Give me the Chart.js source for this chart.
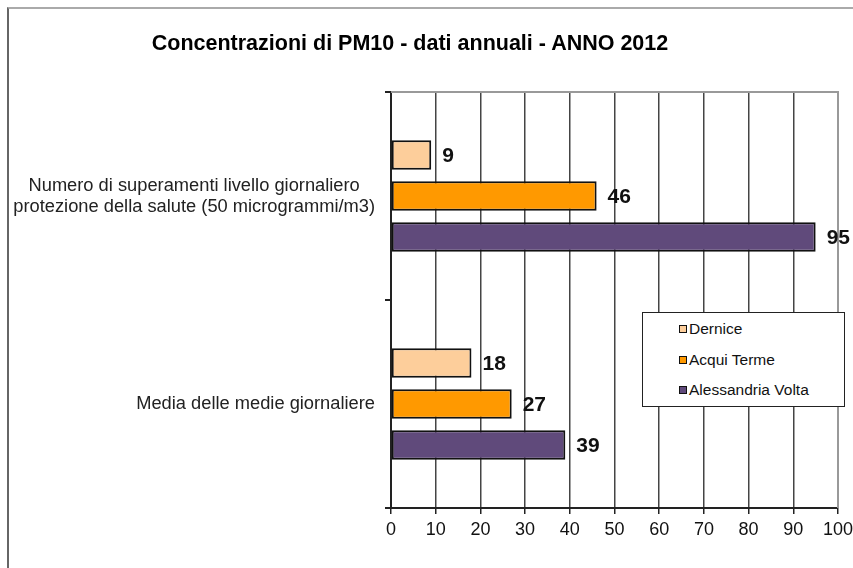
<!DOCTYPE html>
<html>
<head>
<meta charset="utf-8">
<script src="https://cdn.jsdelivr.net/npm/chart.js@4.4.1/dist/chart.umd.min.js"></script>
<style>
  html, body { margin: 0; padding: 0; background: #fff; }
  .wrap { position: relative; width: 853px; height: 568px; overflow: hidden; font-family: Arial, "Liberation Sans", sans-serif; }
  .frame { position: absolute; left: 7px; top: 7px; width: 900px; height: 600px; border-top: 2px solid #aaa; border-left: 2px solid #666; }
  .title { position: absolute; left: 0; width: 820px; top: 31px; text-align: center; font-weight: bold; font-size: 21.5px; color: #000; }
  canvas { position: absolute; left: 0; top: 0; }
  .legend { position: absolute; left: 642px; top: 312px; width: 201px; height: 93px; border: 1px solid #222; background: #fff; }
  .legend ul { list-style: none; margin: 0; padding: 7px 0 0 36px; }
  .legend li { font-size: 15.5px; color: #111; height: 30.5px; line-height: 18px; }
  .legend .sw { display: inline-block; width: 6px; height: 6px; border: 1.5px solid #111; margin-right: 2px; vertical-align: 1px; }
</style>
</head>
<body>
<div class="wrap">
  <div class="frame"></div>
  <canvas id="chart" width="853" height="568"></canvas>
  <div class="title">Concentrazioni di PM10 - dati annuali - ANNO 2012</div>
  <div class="legend"><ul></ul></div>
</div>
<script>
const categories = [
  ["Numero di superamenti livello giornaliero", "protezione della salute (50 microgrammi/m3)"],
  ["Media delle medie giornaliere"]
];
const seriesNames = ["Dernice", "Acqui Terme", "Alessandria Volta"];
const dernice = [9, 18];
const acquiTerme = [46, 27];
const alessandriaVolta = [95, 39];
const xTicks = [0, 10, 20, 30, 40, 50, 60, 70, 80, 90, 100];
const colors = ["#FDCE9B", "#FF9900", "#604A7B"];

const FONT = "Arial, 'Liberation Sans', sans-serif";

// value labels to the right of each bar
const valueLabels = {
  id: "valueLabels",
  afterDatasetsDraw(chart) {
    const ctx = chart.ctx;
    ctx.save();
    ctx.font = "bold 21px " + FONT;
    ctx.fillStyle = "#111";
    ctx.textAlign = "left";
    ctx.textBaseline = "middle";
    chart.data.datasets.forEach((ds, di) => {
      chart.getDatasetMeta(di).data.forEach((bar, i) => {
        ctx.fillText(ds.data[i], bar.x + 11, bar.y + 1);
      });
    });
    ctx.restore();
  }
};

// category labels: block right-aligned to the axis, lines centred in the block
const categoryLabels = {
  id: "categoryLabels",
  afterDraw(chart) {
    const ctx = chart.ctx;
    const scale = chart.scales.y;
    ctx.save();
    ctx.font = "18.3px " + FONT;
    ctx.fillStyle = "#222";
    ctx.textAlign = "center";
    ctx.textBaseline = "middle";
    const lineH = 21;
    const right = scale.right - 16;
    chart.data.labels.forEach((lines, i) => {
      const y = scale.getPixelForTick(i);
      const w = Math.max(...lines.map(l => ctx.measureText(l).width));
      const cx = right - w / 2;
      lines.forEach((l, k) => {
        ctx.fillText(l, cx, y + (k - (lines.length - 1) / 2) * lineH);
      });
    });
    ctx.restore();
  }
};

// gray border round the top and right of the plot area
const plotBorder = {
  id: "plotBorder",
  beforeDatasetsDraw(chart) {
    const { ctx, chartArea: a } = chart;
    ctx.save();
    ctx.strokeStyle = "#999";
    ctx.lineWidth = 2;
    ctx.beginPath();
    ctx.moveTo(a.left, a.top);
    ctx.lineTo(a.right, a.top);
    ctx.lineTo(a.right, a.bottom);
    ctx.stroke();
    ctx.restore();
  }
};

const myChart = new Chart(document.getElementById("chart"), {
  type: "bar",
  data: {
    labels: categories,
    datasets: [dernice, acquiTerme, alessandriaVolta].map((d, i) => ({
      label: seriesNames[i],
      data: d,
      backgroundColor: colors[i],
      borderColor: "#111",
      borderWidth: 2,
      borderSkipped: false,
      categoryPercentage: 0.59,
      barPercentage: 0.72
    }))
  },
  options: {
    indexAxis: "y",
    responsive: false,
    animation: false,
    layout: { padding: { left: 0, right: 15, top: 92, bottom: 0 } },
    plugins: {
      legend: { display: false },
      title: { display: false },
      tooltip: { enabled: false }
    },
    scales: {
      x: {
        min: 0,
        max: 100,
        afterBuildTicks: (s) => { s.ticks = xTicks.map(v => ({ value: v })); },
        afterFit: (s) => { s.height = 60; s.paddingRight = 0; s.paddingLeft = 0; },
        grid: {
          color: (c) => (c.tick && c.tick.value === 100 ? "#999" : "#444"),
          lineWidth: 1.5,
          tickLength: 6,
          tickColor: "#222"
        },
        border: { color: "#222", width: 2 },
        ticks: { font: { family: FONT, size: 18 }, color: "#111", padding: 5, maxRotation: 0 }
      },
      y: {
        afterFit: (s) => { s.width = 391; },
        grid: { drawOnChartArea: false, offset: true, tickLength: 6, color: "#222", lineWidth: 2 },
        border: { color: "#222", width: 2 },
        ticks: { display: false }
      }
    }
  },
  plugins: [plotBorder, valueLabels, categoryLabels]
});

// legend entries built from the chart's datasets
const ul = document.querySelector(".legend ul");
myChart.data.datasets.forEach((ds) => {
  const li = document.createElement("li");
  li.innerHTML = `<span class="sw" style="background:${ds.backgroundColor}"></span>${ds.label}`;
  ul.appendChild(li);
});
</script>
</body>
</html>
